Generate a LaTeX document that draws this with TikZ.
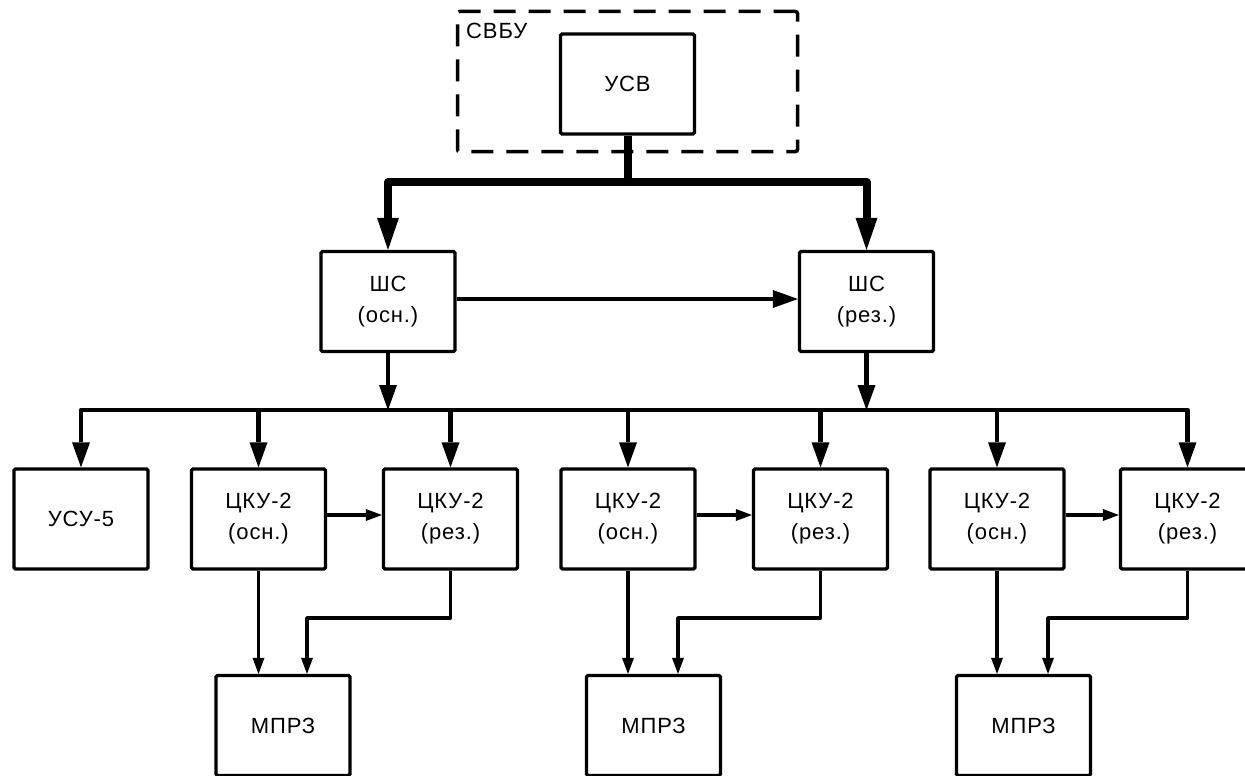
\documentclass[tikz,border=0pt]{standalone}
\usepackage{fontspec}
\setmainfont{Liberation Sans}[LetterSpace=4]
\usetikzlibrary{arrows.meta}
\begin{document}
\begin{tikzpicture}[x=1pt,y=-1pt,
  txt/.style={font=\fontsize{22}{31}\selectfont},
  box/.style={txt,draw,line width=3.3pt,minimum width=134pt,minimum height=100pt,inner sep=0pt,align=center,rounded corners=1.5pt},
  dashbox/.style={draw,line width=3.5pt,dash pattern=on 22pt off 13pt,minimum width=340pt,minimum height=140pt,rounded corners=2pt,inner sep=0pt},
  thickline/.style={line width=8pt,line join=round},
  thickarrow/.style={thickline,-{Triangle[length=32pt,width=22pt,line width=0pt]}},
  medarrow/.style={line width=4.5pt,line join=round,-{Triangle[length=25pt,width=18pt,line width=0pt]}},
  thinarrow/.style={line width=3.7pt,line join=round,-{Triangle[length=16pt,width=12pt,line width=0pt]}}
]
\useasboundingbox (0,0) rectangle (1245,776);
\clip (0,0) rectangle (1245,776);

% dashed group
\node[dashbox] (svbu) at (627.5,81.5) {};
\node[txt,anchor=west,inner sep=0pt] (svbulabel) at (466,31) {СВБУ};

% boxes
\node[box] (usv) at (627.5,84) {УСВ};
\node[box] (sho) at (388,301.5) {ШС\\(осн.)};
\node[box] (shr) at (866.5,301.5) {ШС\\(рез.)};

\node[box] (usu) at (81,519) {УСУ-5};
\node[box] (c1o) at (258.5,519) {ЦКУ-2\\(осн.)};
\node[box] (c1r) at (450.5,519) {ЦКУ-2\\(рез.)};
\node[box] (c2o) at (628,519) {ЦКУ-2\\(осн.)};
\node[box] (c2r) at (820.5,519) {ЦКУ-2\\(рез.)};
\node[box] (c3o) at (997,519) {ЦКУ-2\\(осн.)};
\node[box] (c3r) at (1187.5,519) {ЦКУ-2\\(рез.)};

\node[box] (m1) at (283,725.5) {МПРЗ};
\node[box] (m2) at (653.5,725.5) {МПРЗ};
\node[box] (m3) at (1023.5,725.5) {МПРЗ};

% helper coordinates
\coordinate (bt) at (627.5,182);
\coordinate (bb) at (627.5,410);
\coordinate (k1) at (307,618);
\coordinate (k2) at (678,618);
\coordinate (k3) at (1048,618);

% top bus
\draw[thickline] (usv.south) -- (bt);
\draw[thickarrow] (bt) -| (sho.north);
\draw[thickarrow] (bt) -| (shr.north);

% ШС link
\draw[medarrow] ([yshift=2.5pt]sho.east) -- ([yshift=2.5pt]shr.west);

% ШС to lower bus
\draw[medarrow] (sho.south) -- (sho.south |- bb);
\draw[medarrow] (shr.south) -- (shr.south |- bb);

% lower bus
\draw[medarrow] (bb) -| (usu.north);
\draw[medarrow] (bb) -| (c3r.north);
\foreach \n in {c1o,c1r,c2o,c2r,c3o}
  \draw[medarrow] (\n.north |- bb) -- (\n.north);

% ЦКУ links
\draw[thinarrow] ([yshift=4pt]c1o.east) -- ([yshift=4pt]c1r.west);
\draw[thinarrow] ([yshift=4pt]c2o.east) -- ([yshift=4pt]c2r.west);
\draw[thinarrow] ([yshift=4pt]c3o.east) -- ([yshift=4pt]c3r.west);

% to МПРЗ
\draw[thinarrow] (c1o.south) -- (c1o.south |- m1.north);
\draw[thinarrow] (c1r.south) |- (k1) -- (k1 |- m1.north);
\draw[thinarrow] (c2o.south) -- (c2o.south |- m2.north);
\draw[thinarrow] (c2r.south) |- (k2) -- (k2 |- m2.north);
\draw[thinarrow] (c3o.south) -- (c3o.south |- m3.north);
\draw[thinarrow] (c3r.south) |- (k3) -- (k3 |- m3.north);
\end{tikzpicture}
\end{document}
